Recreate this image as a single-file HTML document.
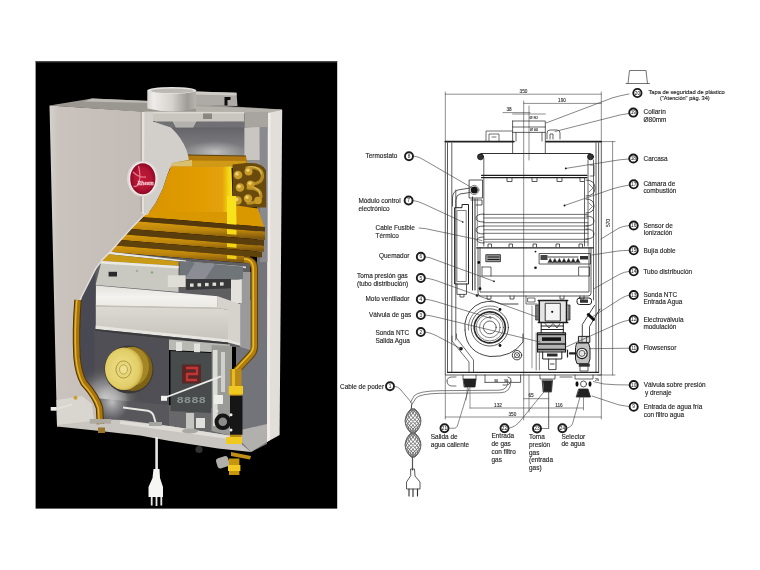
<!DOCTYPE html>
<html><head><meta charset="utf-8"><title>Calentador - diagrama de componentes</title>
<style>
html,body{margin:0;padding:0;background:#fff;}
body{width:760px;height:570px;overflow:hidden;font-family:"Liberation Sans",sans-serif;}
svg{display:block;position:absolute;left:0;top:0;}
.lb{font-family:"Liberation Sans",sans-serif;font-size:6.45px;fill:#262626;stroke:#262626;stroke-width:0.14px;}
.dm{font-family:"Liberation Sans",sans-serif;font-size:4.7px;fill:#333;stroke:#333;stroke-width:0.12px;}
</style></head><body>
<svg width="760" height="570" viewBox="0 0 760 570">
<defs>
<filter id="bl" x="-5%" y="-5%" width="110%" height="110%"><feGaussianBlur stdDeviation="0.7"/></filter>
<filter id="bl3" x="-5%" y="-5%" width="110%" height="110%"><feGaussianBlur stdDeviation="0.62"/></filter>
<filter id="bl2" x="-5%" y="-5%" width="110%" height="110%"><feGaussianBlur stdDeviation="0.45"/></filter>
<linearGradient id="gPanel" x1="0" y1="0" x2="1" y2="0"><stop offset="0" stop-color="#d2cdc7"/><stop offset="0.12" stop-color="#c4bdb7"/><stop offset="1" stop-color="#bdb5af"/></linearGradient>
<linearGradient id="gPipe" x1="0" y1="0" x2="1" y2="0"><stop offset="0" stop-color="#e4e2de"/><stop offset="0.35" stop-color="#cfccc8"/><stop offset="0.8" stop-color="#a9a6a2"/><stop offset="1" stop-color="#c4c1bd"/></linearGradient>
<linearGradient id="gDuct" x1="0" y1="0" x2="0" y2="1"><stop offset="0" stop-color="#5e5e62"/><stop offset="0.5" stop-color="#7d7d80"/><stop offset="1" stop-color="#a9a9a9"/></linearGradient>
<linearGradient id="gGold" x1="0" y1="0" x2="1" y2="0"><stop offset="0" stop-color="#d08c08"/><stop offset="0.6" stop-color="#e2a00a"/><stop offset="0.92" stop-color="#e8ac0c"/><stop offset="1" stop-color="#f6dc18"/></linearGradient>
<linearGradient id="gBurn" x1="0" y1="0" x2="0" y2="1"><stop offset="0" stop-color="#e8e6e0"/><stop offset="0.45" stop-color="#d6d3cc"/><stop offset="1" stop-color="#c4c1ba"/></linearGradient>
<radialGradient id="gFan" cx="0.45" cy="0.45" r="0.6"><stop offset="0" stop-color="#e8d070"/><stop offset="0.7" stop-color="#c9a63a"/><stop offset="1" stop-color="#8a6c1c"/></radialGradient>
</defs>
<rect width="760" height="570" fill="#fff"/>
<!-- PHOTO -->
<defs>
<linearGradient id="pPanel" x1="0" y1="0" x2="1" y2="0"><stop offset="0" stop-color="#d6d1cb"/><stop offset="0.1" stop-color="#cac3bd"/><stop offset="1" stop-color="#c3bbb5"/></linearGradient>
<linearGradient id="pPipe" x1="0" y1="0" x2="1" y2="0"><stop offset="0" stop-color="#d8d6d2"/><stop offset="0.12" stop-color="#eeece8"/><stop offset="0.5" stop-color="#d6d3cf"/><stop offset="0.82" stop-color="#9f9c98"/><stop offset="1" stop-color="#b8b5b1"/></linearGradient>
<linearGradient id="pHood" x1="0" y1="0" x2="0" y2="1"><stop offset="0" stop-color="#5c5c60"/><stop offset="0.45" stop-color="#77777a"/><stop offset="1" stop-color="#9c9c9c"/></linearGradient>
<radialGradient id="pHoodGlow" cx="0.5" cy="0.5" r="0.5"><stop offset="0" stop-color="#c4c4c4" stop-opacity="0.95"/><stop offset="1" stop-color="#b0b0b0" stop-opacity="0"/></radialGradient>
<linearGradient id="pGold" x1="0" y1="0" x2="1" y2="0"><stop offset="0" stop-color="#d89204"/><stop offset="0.5" stop-color="#e09a04"/><stop offset="0.88" stop-color="#e4a208"/><stop offset="0.95" stop-color="#f4d414"/><stop offset="1" stop-color="#f9e628"/></linearGradient>
<linearGradient id="pBurnTop" x1="0" y1="0" x2="0" y2="1"><stop offset="0" stop-color="#e4e2dc"/><stop offset="0.5" stop-color="#f4f2ee"/><stop offset="1" stop-color="#ebe9e4"/></linearGradient>
<linearGradient id="pBurnFront" x1="0" y1="0" x2="0" y2="1"><stop offset="0" stop-color="#dddad4"/><stop offset="1" stop-color="#c6c3bc"/></linearGradient>
<radialGradient id="pMotor" cx="0.45" cy="0.5" r="0.55"><stop offset="0" stop-color="#efe08c"/><stop offset="0.8" stop-color="#e2ce68"/><stop offset="1" stop-color="#c8ac44"/></radialGradient>
<radialGradient id="pHouse" cx="0.32" cy="0.72" r="0.5"><stop offset="0" stop-color="#dcdcdc" stop-opacity="0.95"/><stop offset="0.55" stop-color="#9a9a9c" stop-opacity="0.6"/><stop offset="1" stop-color="#505054" stop-opacity="0"/></radialGradient>
<linearGradient id="pCoil" x1="0" y1="0" x2="0" y2="1"><stop offset="0" stop-color="#d89c0e"/><stop offset="0.5" stop-color="#bb840a"/><stop offset="1" stop-color="#704c08"/></linearGradient>
<linearGradient id="pTube" x1="0" y1="0" x2="1" y2="0"><stop offset="0" stop-color="#6a4608"/><stop offset="0.3" stop-color="#e2b424"/><stop offset="0.6" stop-color="#b88210"/><stop offset="1" stop-color="#5a3c08"/></linearGradient>
<radialGradient id="pLogo" cx="0.5" cy="0.5" r="0.5"><stop offset="0" stop-color="#c01838"/><stop offset="0.7" stop-color="#b01232"/><stop offset="1" stop-color="#8c0c26"/></radialGradient>
</defs>
<g id="photo">
<rect x="35.6" y="61.2" width="301.6" height="447.4" fill="#000"/>
<rect x="35.6" y="61" width="301.6" height="1.4" fill="#4a4a4a"/>
<g filter="url(#bl)">
<!-- top face -->
<polygon points="49.5,105.5 92,98.6 150,101 200,104.5 282,109.5 282,113 145,112" fill="#9a9690"/>
<polygon points="92,98.6 150,101 150,103 84,101.5" fill="#bdb9b3"/>
<polygon points="196,106 282,109.5 282,112.5 196,112" fill="#b4b0aa"/>
<!-- bracket -->
<polygon points="195,91.6 236.500,92.800 237.500,106 195,105.5" fill="#aeaba6"/>
<polygon points="195,91.6 236.500,92.800 236.500,95.500 195,94.400" fill="#cfccc7"/>
<path d="M224.5,97 L230.5,97 L230.5,100 L227.500,100 L227.500,105.600 L224.5,105.600 Z" fill="#0c0c0c"/>
<!-- flue pipe -->
<path d="M147.300,90.500 L147.300,108.500 Q172,114.500 196.200,108.500 L196.200,90.500 Z" fill="url(#pPipe)"/>
<ellipse cx="171.800" cy="90.400" rx="24.500" ry="3.300" fill="#e6e4e0"/>
<ellipse cx="172.300" cy="90.800" rx="21.500" ry="2.300" fill="#bcb9b5"/>
<!-- inner right wall -->
<polygon points="257,122 267,118 267,444 251,452 236,440 236,300 257,300" fill="#73737a"/>
<!-- right front strip -->
<polygon points="267.500,113 282.200,110 279.600,435 267,442" fill="#e2deda"/>
<polygon points="267.500,113 270.500,112.500 270,440 267,442" fill="#f0ede9"/>
<!-- hood interior -->
<polygon points="160,121 260,121 260,168 160,168" fill="url(#pHood)"/>
<ellipse cx="215" cy="152" rx="32" ry="11" fill="url(#pHoodGlow)"/>
<polygon points="244.400,127.400 259.800,126.500 259.800,160 244.400,160" fill="#c9c6c1"/>
<polygon points="259.800,124 267.500,121 267.500,262 259.800,262" fill="#8a8a8e"/>
<polygon points="244.400,112 268,112 268,127 244.400,127.400" fill="#a8a4a0"/>
<!-- flue collar below lip -->
<polygon points="171,119 198,119 193,128 176,128" fill="#b4b2ae"/>
<!-- under-lip shadow -->
<polygon points="155,121 171,121 176,128 193,128 198,121 244.400,121.500 244.400,127.400 155,127.400" fill="#707074"/>
<!-- lip -->
<polygon points="145,111.800 244.400,112 244.400,121.500 145,121.500" fill="#c9c5bf"/>
<polygon points="145,111.800 244.400,112 244.400,113.500 145,113.500" fill="#dcd9d4"/>
<rect x="203" y="113.500" width="9" height="5.500" fill="#8a8782"/>
<!-- gold neck -->
<polygon points="187,154.500 246,155.500 246,158 186,157" fill="#5e4208"/>
<polygon points="186,155.500 246,156.500 248,166.500 172,166.500" fill="#b27a0c"/>
<polygon points="190,160.500 246,161 246,166.500 176,166.500" fill="#d09a12"/>
<polygon points="172,163 192,160 192,166.500 170,166.500" fill="#d8c070"/>
<!-- gold body -->
<polygon points="171,166.500 231.500,166.500 233,218.400 143,218.400 147.300,215 155.500,203.200 162.700,189 167.400,174.800" fill="url(#pGold)"/>
<!-- pipe bends right -->
<path d="M232.600,164.500 L246,163 Q262,162 266,170 L266.200,207.600 L232.600,207.600 Z" fill="#6a4a0c"/>
<g fill="none" stroke="#b48c26" stroke-width="3.400" stroke-linecap="round">
<path d="M247,168 Q262,166 262.500,176 Q262,184 250,184"/>
<path d="M248,188 Q261,188 261,196 Q260,203 248,203"/>
</g>
<g fill="none" stroke="#e0c058" stroke-width="1.100" stroke-linecap="round">
<path d="M248,167 Q260,165.500 261.500,174"/><path d="M249,187 Q259,187 260,194"/>
</g>
<g fill="#c89a26"><circle cx="238" cy="175" r="4.300"/><circle cx="248.500" cy="171.500" r="4"/><circle cx="240" cy="187.500" r="4.300"/><circle cx="250.500" cy="184.500" r="4"/><circle cx="237.500" cy="200.500" r="4.300"/><circle cx="248" cy="198.500" r="4.200"/><circle cx="258" cy="200.500" r="3.800"/></g>
<g fill="#ecd070"><circle cx="237" cy="173.800" r="1.900"/><circle cx="248" cy="170.300" r="1.700"/><circle cx="239" cy="186.300" r="1.900"/><circle cx="250" cy="183.300" r="1.700"/><circle cx="236.500" cy="199.300" r="1.900"/><circle cx="247" cy="197.300" r="1.700"/></g>
<!-- flared base -->
<polygon points="140,212 233,212 233,205 258,208.500 264,226.9 138,216.6" fill="#da9806"/>
<!-- coils -->
<polygon points="140.0,216.8 265.0,227.0 265.0,231.8 134.0,221.1" fill="#573808"/>
<polygon points="134.0,221.1 265.0,231.8 265.0,240.1 125.0,228.6" fill="url(#pCoil)"/>
<polygon points="125.0,228.6 264.0,240.0 264.0,245.9 119.5,234.1" fill="#5a3c08"/>
<polygon points="119.5,234.1 264.0,245.9 264.0,251.8 114.0,239.5" fill="url(#pCoil)"/>
<polygon points="114.0,239.5 262.0,251.7 262.0,257.6 109.0,245.0" fill="#614208"/>
<polygon points="109.0,245.0 250.0,256.6 250.0,263.6 103.0,251.5" fill="url(#pCoil)"/>
<polygon points="227,196 236,196 236.500,224.7 227,223.9" fill="#f8e21c"/>
<polygon points="227,229.1 236.500,229.9 236.500,234.8 227,234.0" fill="#f6dc18"/>
<polygon points="227,243.3 236.500,244.1 236.500,247.8 227,247.0" fill="#f2d418"/>
<polygon points="227,255.1 236.500,255.9 236.500,259.3 227,258.5" fill="#eecc18"/>
<!-- vertical gold pipe right -->
<path d="M244,259.700 Q254.300,260 254.300,269 L254.300,346 Q254.300,352 250,356 L236,371" fill="none" stroke="#5e400a" stroke-width="7.500"/>
<path d="M244,259.700 Q254.300,260 254.300,269 L254.300,346 Q254.300,352 250,356 L236,371" fill="none" stroke="#b07c10" stroke-width="5.500"/>
<path d="M244,258.700 Q253.300,259 253.300,269 L253.300,346 Q253.300,351 249,355 L235,370" fill="none" stroke="#e6bc28" stroke-width="1.600"/>
<!-- burner zone background -->
<polygon points="92,256 103,251.500 250,263.600 250,347 92,347" fill="#5e5e62"/>
<polygon points="240,272 250.500,272 250.500,350 240,347" fill="#9a9a9a"/>
<polygon points="186,261.500 246,266.500 246,268.300 186,263.300" fill="#d8d8d4"/>
<!-- frame white line + gold plate -->
<polygon points="108,251.500 186,260.500 186,262 106.500,254" fill="#e8e6e0"/>
<polygon points="106.500,254 178.500,261.500 178.500,266 101.500,261" fill="#c89a12"/>
<!-- manifold silver -->
<polygon points="101.500,261 178.500,266 178.500,292 95.500,285" fill="#c9c8c1"/>
<polygon points="101.500,261 178.500,266 178.500,268.500 100,263.500" fill="#e9e8e2"/>
<rect x="108.600" y="271.800" width="8.400" height="4.700" fill="#2a2a2a"/>
<circle cx="137" cy="271" r="1.200" fill="#a8a8a2"/><circle cx="152" cy="272.500" r="1.200" fill="#8aa878"/>
<!-- electrode strip -->
<polygon points="186,278.300 238,276 238,288 186,290" fill="#38383a"/>
<polygon points="180,261 243,266.500 243,279 180,279" fill="#70747a"/><polygon points="195,262.500 215,264.200 205,279 185,279" fill="#8a8e94"/>
<g fill="#deded8"><rect x="190" y="283.500" width="3.600" height="3.300"/><rect x="197.500" y="283.200" width="3.600" height="3.300"/><rect x="205" y="282.900" width="3.600" height="3.300"/><rect x="212.500" y="282.600" width="3.600" height="3.300"/><rect x="220" y="282.300" width="3.600" height="3.300"/></g>
<rect x="167.800" y="275.300" width="17.800" height="11.700" fill="#deddd6"/>
<rect x="231" y="279.500" width="10.800" height="23.500" fill="#e2e1db"/>
<!-- burner body -->
<polygon points="96,285.500 217.700,296.200 217.700,308 95.700,305.700" fill="url(#pBurnTop)"/>
<polygon points="95.700,305.700 217.700,308 228,310 228,341 95.700,327" fill="url(#pBurnFront)"/>
<polygon points="217.700,296.200 240.200,304 240.200,344.800 228,341 228,310 217.700,308" fill="#d6d3cc"/>
<polygon points="95.700,305.200 217.700,307.500 217.700,309 95.700,306.700" fill="#c2bfb8"/>
<polygon points="94.500,325.600 228,339.500 240.200,343.300 240.200,345.800 228,342.500 94.500,329" fill="#e6e5e0"/>
<polygon points="94.500,329 228,342.500 228,345 94.500,331.500" fill="#3a3a3c"/>
<!-- legs under burner -->
<polygon points="169,339.500 230,344.500 230,353 169,350" fill="#b9b9b4"/>
<rect x="176" y="342" width="6" height="9" fill="#e2e2de"/><rect x="194" y="343.500" width="6" height="9" fill="#e2e2de"/>
<!-- dark left gap -->
<polygon points="95.500,268.200 95.500,400 84,390 78,375 75,354 73,333 74,312 81.300,296.600 88.400,282.400" fill="#4a4a52"/>
<!-- fan housing -->
<polygon points="94.500,330.500 169,339.500 169,413 123,408 104,425 94.500,400" fill="#505054"/>
<ellipse cx="118" cy="384" rx="34" ry="32" fill="url(#pHouse)"/>
<polygon points="94.500,398 169,405 169,426 104,420" fill="#58585c"/>
<ellipse cx="112" cy="402" rx="17" ry="19" fill="url(#pHoodGlow)"/>
<ellipse cx="129" cy="369.500" rx="24.500" ry="24" fill="#3a3834"/>
<ellipse cx="133" cy="369" rx="19.500" ry="22" fill="#7e6218"/><ellipse cx="131.500" cy="366.500" rx="17.500" ry="19.500" fill="#a48628"/>
<ellipse cx="124" cy="368.800" rx="19" ry="21.200" fill="url(#pMotor)"/>
<ellipse cx="123.500" cy="369.500" rx="7.600" ry="8.600" fill="#e6d67a" stroke="#a89038" stroke-width="0.900"/>
<ellipse cx="123.500" cy="369.500" rx="4" ry="4.600" fill="#eee090" stroke="#a89038" stroke-width="0.700"/>
<!-- under board fill -->
<polygon points="169,405 232,410 232,437 169,427" fill="#68686a"/>
<!-- control board -->
<polygon points="170.500,351 211.500,353 211.500,413 170.500,411" fill="#464b4b"/>
<rect x="182" y="364.500" width="19" height="19" fill="#5a2626"/>
<path d="M186,368 L197,368 L197,374 L187,374 L187,380 L197,380" stroke="#c23434" stroke-width="2.400" fill="none"/>
<text x="176.500" y="402.500" font-family="Liberation Mono, monospace" font-size="9.500" font-weight="bold" fill="#8a9292" textLength="29.500" lengthAdjust="spacingAndGlyphs">8888</text>
<!-- right internals -->
<polygon points="211.500,345 232,346 232,436 211.500,431" fill="#9a9a96"/>
<rect x="213" y="350" width="4.500" height="76" fill="#dcdcd8"/>
<rect x="221" y="352" width="4" height="40" fill="#cfcfcb"/>
<rect x="214" y="395" width="9" height="9" fill="#ecece8"/>
<!-- floor inner right -->
<polygon points="232,432 267,424 267,442 251,452" fill="#b2b0ac"/>
<!-- bottom plate -->
<polygon points="57,418 123,420 169,426 232,436 251,452 218,448.400 170,441 140,435.500 100,431 57,426.500" fill="#c9c6c1"/>
<polygon points="120,421 169,426 232,436 236,440 120,424" fill="#e0ddd8"/>
<!-- cylinders under board -->
<rect x="186" y="413" width="8" height="17" fill="#c4c4c0"/><rect x="196" y="418" width="9" height="10" fill="#e0e0dc"/>
<ellipse cx="190" cy="431" rx="8" ry="2.500" fill="#a8a8a4"/>
<!-- brass fittings -->
<rect x="230" y="369" width="11.500" height="72" fill="#b98a12"/>
<rect x="232" y="369" width="3" height="20" fill="#e6bc28"/>
<rect x="228.700" y="386" width="14.300" height="8.500" fill="#f0c820"/>
<rect x="226" y="437" width="16" height="7" fill="#f0c820"/>
<rect x="230" y="395.700" width="12.500" height="39" fill="#161616"/>
<circle cx="222.800" cy="421.800" r="8.300" fill="#141414"/>
<circle cx="222.800" cy="421.800" r="4.300" fill="#8c8c8a"/>
<circle cx="231" cy="414.700" r="1.500" fill="#f0f0f0"/><circle cx="231" cy="430" r="1.500" fill="#f0f0f0"/><circle cx="217" cy="411" r="1.300" fill="#e4e4e4"/>
<!-- below cabinet valve -->
<polygon points="231,452 251,456 250,459.500 231,456" fill="#c09018"/>
<rect x="216.500" y="457" width="12.500" height="10.500" rx="3" fill="#b0aeaa" transform="rotate(-18 223 462)"/>
<rect x="229" y="458.500" width="10.400" height="16.500" fill="#c89610"/>
<rect x="228" y="465" width="12.400" height="6" fill="#f2c820"/>
<circle cx="199" cy="449.500" r="3.600" fill="#303030"/>
<!-- front left panel -->
<polygon points="49.500,105.500 145,111.800 145,213.700 131,228 119.200,241 111,250.400 102.700,258.700 95.500,268.200 88.400,282.400 81.300,296.600 75.400,313.200 73.500,333 75,354 77,372 82,384 92,394 98,404 100,420 57,426.500" fill="url(#pPanel)"/>
<!-- cut band -->
<path d="M143.700,112 L153,112 L153,121.500 L171,127.400 Q182,138 186.500,150 Q188.700,157 188.700,160 L172,163 L167.400,174.800 L162.700,189 L155.500,203.200 L147.300,215 L145,215 Z" fill="#d2cec9"/>
<rect x="141.800" y="112" width="2.600" height="102" fill="#e4e0dc"/>
<rect x="140.600" y="112" width="1.200" height="100" fill="#aaa39d"/>
<path d="M145.300,213.700 L131,228.500 L119.200,241.500 L111,251 L102.700,259.300 L95.500,268.800 L88.400,283 L81.300,297 L76,312" stroke="#e2ded9" stroke-width="1.600" fill="none"/>
<!-- left gold tube -->
<path d="M78,300 Q75.500,330 77,357 Q78.500,374 84,383 Q96,396 99.500,408 L100.400,424" fill="none" stroke="#4e3406" stroke-width="7.400"/>
<path d="M78,300 Q75.500,330 77,357 Q78.500,374 84,383 Q96,396 99.500,408 L100.400,424" fill="none" stroke="#a87410" stroke-width="5.400"/>
<path d="M76.800,300 Q74.300,330 75.800,357 Q77.300,374 83,384 Q95,397 98.300,408 L99.200,422" fill="none" stroke="#e4b42c" stroke-width="1.500"/>
<!-- floor left lit -->
<polygon points="56.500,400 82,396 92,404 94,421 57,425" fill="#d9d5cf"/>
<rect x="89.800" y="419" width="21.200" height="4.700" fill="#aeaaa0"/>
<rect x="98" y="427.500" width="7" height="5.500" fill="#9a742a"/>
<rect x="50.700" y="407" width="6" height="3.700" fill="#eeece8"/>
<path d="M56,409 L72,404.500" stroke="#e2e0dc" stroke-width="2.200"/>
<circle cx="75.500" cy="397.700" r="2" fill="#c8a030"/>
<!-- logo -->
<ellipse cx="142.800" cy="178.700" rx="15.800" ry="18" fill="#dcd8d4"/>
<ellipse cx="142.800" cy="178.700" rx="14" ry="16.800" fill="#f3eaea"/>
<ellipse cx="142.800" cy="178.700" rx="12.600" ry="15.500" fill="url(#pLogo)"/>
<path d="M138.500,166 Q141,176 139,182 Q137,188 133.500,186 M133,172 Q139,178 146,177" stroke="#e2788c" stroke-width="1.300" fill="none"/>
<text x="137.300" y="185" font-family="Liberation Serif, serif" font-style="italic" font-weight="bold" font-size="7" fill="#f6c0ca" stroke="#f6c0ca" stroke-width="0.300" textLength="16.500" lengthAdjust="spacingAndGlyphs">Rheem</text>
<!-- white rod and small pipe -->
<path d="M164,398 L221,376.400" stroke="#ecece8" stroke-width="1.800" fill="none"/>
<rect x="161" y="395.800" width="6" height="5" fill="#f2f2ee"/>
<path d="M123,407.600 L147.800,410.700 Q153,412 154,417 L156,424" stroke="#e6e6e2" stroke-width="2" fill="none"/>
<rect x="149" y="422" width="13" height="4" fill="#a4a4a0"/>
<!-- power cord -->
<rect x="155.300" y="437" width="2.600" height="34" fill="#e8e8e6"/>
<path d="M153.500,469 L159.500,469 L160,478 L163,487 L163,497 L148.500,497 L148.500,487 L152.500,478 Z" fill="#f6f6f4"/>
<rect x="150.800" y="497" width="1.800" height="8.500" fill="#eaeae8"/><rect x="155.600" y="497" width="1.800" height="9" fill="#eaeae8"/><rect x="160.400" y="497" width="1.800" height="8.500" fill="#eaeae8"/>
</g>
</g>
<!-- DIAGRAM -->
<g id="diagram" filter="url(#bl2)" fill="none" stroke="#303030" stroke-width="0.75" stroke-linecap="round" stroke-linejoin="round">
<!-- cap icon -->
<path d="M626,83.500 L649.500,83.500 M628,83.500 L629.500,70.500 L646,70.500 L647.500,83.500" stroke-width="0.8" stroke="#505050"/>
<!-- dimension lines top -->
<g stroke="#484848" stroke-width="0.62">
<path d="M445.300,94.200 L601.300,94.200 M445.300,92 L445.300,141 M601.300,92 L601.300,141"/>
<path d="M523.700,103.400 L601.300,103.400 M523.700,101 L523.700,420"/>
<path d="M503,112.600 L530,112.600 M529,106 L529,160 M512.600,114 L545.300,114"/>
<path d="M612.600,141.600 L612.600,375 M598,141.600 L615,141.600 M598,375 L615,375"/>
</g>
<!-- flue -->
<path d="M512.600,121 L545.300,121 L545.300,153 M512.600,121 L512.600,153 M512.600,127 L545.300,127 M512.600,132.400 L545.300,132.400 M516,132.400 L516,141 M542,132.400 L542,141"/>
<path d="M547,139 L547,133 Q547,130 550,130 L557,130 Q560,130 560,133 L560,139 M550,139 L550,134 L553,134 L553,139"/>
<path d="M486,141 L486,131 L512.600,131 M489,141 L489,134 L499,134 L499,141 M492,137 L496,137" stroke-width="0.7"/>
<!-- cabinet outline -->
<path d="M445.300,141.600 L514,141.600 M546,141.600 L601.300,141.600" stroke-width="1.600" stroke="#222"/>
<path d="M445.300,141.600 L445.300,375 L601.300,375 L601.300,141.600 M447.500,143 L447.500,372.400 M596,143 L596,372.400 M598.600,143 L598.600,372.400" stroke-width="0.8"/>
<path d="M447.500,372.400 L598.600,372.400" stroke-width="1.200" stroke="#222"/>
<path d="M451.800,143 L451.800,372 M455.800,190 L455.800,340"/>
<!-- chamber -->
<path d="M481,153.500 L590,153.500" stroke-width="1"/>
<circle cx="480.500" cy="156.800" r="3" fill="#333" stroke="#111" stroke-width="0.8"/>
<circle cx="590.500" cy="156.800" r="3" fill="#333" stroke="#111" stroke-width="0.8"/>
<path d="M481.500,175.300 L587,175.300 M481.500,177.600 L587,177.600" stroke-width="1.200" stroke="#1c1c1c"/>
<path d="M483.800,158 L483.800,246 M584.500,178 L584.500,246 M588,160 L588,246 M593.500,160 L593.500,300"/>
<path d="M507,178 L507,181.500 L512,181.500 L512,178 M532,178 L532,181.500 L537,181.500 L537,178 M557,178 L557,181.500 L562,181.500 L562,178 M580,178 L580,181.500 L584,181.500" stroke-width="0.8"/>
<!-- right u-bends -->
<path d="M586,180 Q595,180 595,188 Q595,196 586,196 M586,199 Q594,199 594,206 Q594,213 586,213 M586,216 Q594,216 594,221 Q594,226 586,226 M586,229 Q594,229 594,234 Q594,239 586,239" stroke-width="0.8"/>
<path d="M589,184 l4,4 l-4,4 M589,203 l3.500,3.500 l-3.500,3.500" stroke-width="0.6"/>
<path d="M590,165 L594,165 L594,176 L590,176" stroke-width="0.7"/>
<!-- left u-bends -->
<path d="M484,214 Q476,214 476,218 Q476,222 484,222 M484,226 Q476,226 476,230 Q476,234 484,234 M484,237 Q477,237 477,240 Q477,243 484,243" stroke-width="0.8"/>
<!-- tubes through exchanger -->
<path d="M483.800,214.400 L588,214.400 M483.800,218 L588,218 M483.800,222.700 L588,222.700 M483.800,226 L588,226 M483.800,229.800 L588,229.800 M483.800,233.300 L588,233.300 M483.800,239.300 L588,239.300 M483.800,242 L588,242" stroke-width="0.7"/>
<!-- burner box -->
<path d="M476.800,247.900 L593.400,247.900" stroke-width="1.400" stroke="#222"/>
<path d="M478,248 L478,293 Q478,296 481,296 L588,296 Q591,296 591,293 L591,248 M480,248 L480,292 L589,292 L589,248" stroke-width="0.8"/>
<path d="M482,276 L578,276 M482,267 L491,267 L491,276 M482,267 L482,276"/>
<rect x="486.200" y="254.700" width="14.200" height="7" stroke-width="0.9" fill="#999"/>
<path d="M488,257 L499,257 M488,259.500 L499,259.500" stroke-width="0.9" stroke="#111"/>
<path d="M539.500,253.500 L590.500,253.500 L590.500,264 L539.500,264 Z" stroke-width="0.8"/>
<path d="M548.0,262.5 l2.2,-4 l2.2,4 Z M552.6,262.5 l2.2,-4 l2.2,4 Z M557.2,262.5 l2.2,-4 l2.2,4 Z M561.8,262.5 l2.2,-4 l2.2,4 Z M566.4,262.5 l2.2,-4 l2.2,4 Z M571.0,262.5 l2.2,-4 l2.2,4 Z M575.6,262.5 l2.2,-4 l2.2,4 Z" fill="#222" stroke="#222" stroke-width="0.5"/>
<rect x="540.500" y="255" width="7" height="5" fill="#444" stroke="none"/><rect x="580" y="256" width="8" height="3.500" fill="#333" stroke="none"/>
<path d="M548,257 L578,257" stroke-width="0.9" stroke="#333"/>
<rect x="579" y="267" width="10.500" height="9"/>
<circle cx="535.500" cy="267.700" r="1.300" fill="#111" stroke="none"/><circle cx="535.500" cy="251.600" r="0.900" fill="#111" stroke="none"/>
<circle cx="494" cy="281.300" r="0.900" fill="#111" stroke="none"/>
<path d="M488,247 l0,-3 l3.500,0 l0,3 M509,247 l0,-3 l3.500,0 l0,3 M533,247 l0,-3 l3.500,0 l0,3 M556,247 l0,-3 l3.500,0 l0,3 M579,247 l0,-3 l3.500,0 l0,3" stroke-width="0.8"/>
<path d="M487,296 l0,3 l4,0 l0,-3 M510,296 l0,3 l4,0 l0,-3 M560,296 l0,3 l4,0 l0,-3 M580,296 l0,3 l4,0 l0,-3" stroke-width="0.8"/>
<!-- control module left -->
<path d="M455,207.700 L462,207.700 L462,204.500 L468.500,204.500 L468.500,284 L455,284 Z" stroke-width="1" stroke="#222"/>
<path d="M457.300,210.500 L466.200,210.500 L466.200,281.500 L457.300,281.500 Z" stroke-width="0.6"/>
<path d="M457,284 L457,294.400 L466.500,294.400 L466.500,284 M460,294.400 L460,297 L464,297 L464,294.400" stroke-width="0.8"/>
<path d="M470,188 L458,190 Q452.500,191.500 452.500,198 L452.500,206 M470,192.500 L460,194 Q456,195 456,200 L456,207" stroke-width="0.8"/>
<path d="M472.500,197 L472.500,290 M475,199 L475,290" stroke-width="0.95" stroke="#2a2a2a"/><path d="M477.300,199 L477.300,246" stroke-width="0.55"/>
<path d="M469.500,180 L482.500,180 L482.500,198 L469.500,198 Z M471,200 L482,200 L482,205 L476,205" stroke-width="0.8"/>
<circle cx="474.300" cy="190" r="3.500" fill="#161616" stroke="none"/>
<circle cx="474.300" cy="190" r="4.600" stroke-width="0.6"/>
<circle cx="478.800" cy="262.500" r="1.400" fill="#111" stroke="none"/><circle cx="480" cy="288.700" r="1.400" fill="#111" stroke="none"/><circle cx="477" cy="295.500" r="1.300" fill="#111" stroke="none"/>
<!-- fan -->
<circle cx="489.800" cy="327.400" r="6.400"/>
<circle cx="489.800" cy="327.400" r="10.300" stroke-width="0.6"/>
<circle cx="489.800" cy="327.400" r="15.500" stroke-width="1.700" stroke="#2a2a2a" stroke-dasharray="5.200 1.300"/>
<circle cx="489.800" cy="327.400" r="13.600" stroke-width="0.6"/>
<circle cx="489.800" cy="327.400" r="18.600" stroke-width="0.8"/>
<path d="M465,330 A25,25 0 0 1 501,304 L518,304 M465,330 Q466,353 490,356.500 Q512,357.500 523,342 L523,334" stroke-width="0.9"/>
<path d="M468.500,330 A21.500,21.500 0 0 1 498,307.500" stroke-width="0.6"/>
<circle cx="500" cy="309.500" r="1.400" fill="#111" stroke="none"/><circle cx="500" cy="345.500" r="1.400" fill="#111" stroke="none"/><circle cx="490" cy="317" r="0.700" fill="#111" stroke="none"/>
<circle cx="517" cy="355.200" r="4.700" stroke-width="0.9"/><circle cx="517" cy="355.200" r="2.600" stroke-width="0.8"/>
<path d="M514.200,352.400 l5.600,5.600 M519.800,352.400 l-5.600,5.600" stroke-width="0.5"/>
<!-- left pipe -->
<path d="M452,336 L452,341 L469,362 L469,372 M456.500,334 L456.500,338 L473.500,360 L473.500,372" stroke-width="0.7"/>
<circle cx="461" cy="348.700" r="1.800" fill="#111" stroke="none"/>
<!-- gas valve -->
<rect x="538.300" y="300.400" width="29.400" height="22" fill="#e4e4e4" stroke="none"/>
<rect x="537.500" y="332.800" width="28" height="19.200" fill="#b4b4b4" stroke="none"/>
<path d="M538.300,300.400 L567.700,300.400 M539.300,300.400 L539.300,322.500 M566.500,300.400 L566.500,322.500 M538.300,322.500 L567.700,322.500" stroke-width="1.500" stroke="#1c1c1c"/>
<rect x="545.600" y="303.300" width="14.700" height="17.700" fill="#f4f4f4" stroke-width="0.9" stroke="#222"/>
<path d="M536,305 L539,305 L539,320 L536,320 Z M567.500,305 L570,305 L570,320 L567.500,320" stroke-width="0.8" fill="#777"/>
<circle cx="552.200" cy="311.800" r="1.100" fill="#111" stroke="none"/>
<path d="M541.200,322.500 L541.200,332.800 M563.300,322.500 L563.300,332.800 M541.200,326 L563.300,326 M541.200,329.500 L563.300,329.500" stroke-width="1" stroke="#222"/>
<path d="M545,323.500 L549,328 L553,323.500 L557,328 L560,323.500" stroke-width="0.8"/>
<path d="M537.500,332.800 L565.500,332.800 L565.500,352 L537.500,352 Z" stroke-width="1.100" stroke="#1c1c1c"/>
<path d="M537.500,334.600 L565.500,334.600 M537.500,344 L565.500,344 M537.500,349.500 L565.500,349.500" stroke-width="1.500" stroke="#222"/>
<rect x="542" y="337.300" width="19" height="3.600" fill="#141414" stroke="none"/>
<path d="M542.700,352 L542.700,359 L561.800,359 L561.800,352" stroke-width="1" stroke="#222"/>
<rect x="547" y="353.500" width="10.500" height="3" fill="#2a2a2a" stroke="none"/>
<path d="M548.600,359 L548.600,369.600 L556,369.600 L556,359 M550.500,364 L554,364" stroke-width="0.9"/>
<path d="M536.200,333 L536.200,370 M539.400,352 L539.400,370" stroke-width="0.6"/>
<path d="M526,296 L526,304 L537,304 M528,298 L535,298 L535,302 L528,302 Z" stroke-width="0.7"/>
<path d="M532,306 L532,368" stroke-width="0.5"/>
<rect x="577" y="298" width="14.500" height="6.500" rx="2.500" stroke-width="1" stroke="#222"/>
<rect x="580" y="299.500" width="8" height="3.300" fill="#333" stroke="none"/>
<!-- right tube -->
<path d="M594.500,305.500 L582.300,324.500 L582.300,336.400 M600,309 L589.500,326.500 L589.500,336.400" stroke-width="0.9"/>
<path d="M588.300,314.500 L593.500,319.500" stroke="#111" stroke-width="3"/>
<!-- flow sensor -->
<rect x="578.800" y="336.400" width="11" height="6" fill="#ddd" stroke-width="1" stroke="#222"/>
<path d="M582,336.400 L582,342.400 M586.500,336.400 L586.500,342.400" stroke-width="0.7"/>
<path d="M577,343 L588.500,343 L590,348 L590,359 L588.500,363.700 L577,363.700 L575.500,359 L575.500,348 Z" fill="#c2c2c2" stroke-width="1" stroke="#222"/>
<circle cx="582" cy="353.400" r="5.200" stroke-width="1.100" fill="#e8e8e8" stroke="#1c1c1c"/><circle cx="582" cy="353.400" r="3" stroke-width="0.7"/>
<path d="M575.500,353.400 L570,353.400" stroke-width="2.200" stroke="#222"/>
<path d="M567.500,350 L567.500,357" stroke-width="1.200" stroke="#222"/>
<rect x="578.800" y="363.700" width="11" height="3" fill="#333" stroke="none"/>
<path d="M580,366.700 L580,371 L588,371 L588,366.700" stroke-width="0.8"/>
<!-- bottom fittings -->
<path d="M447,381 Q447,377 452,377 L456,377 M447,381 Q447,386 452,386 L456,386" stroke-width="0.7"/>
<path d="M463,375 L463,379 M476,375 L476,379"/>
<path d="M463.500,379 L476,379 L475,387 L464.500,387 Z" fill="#222" stroke="#222"/>
<path d="M470,387 L470,408 M467.500,387 L466,400" stroke-width="0.5"/>
<path d="M540,375 L540,379 L555,379 L555,375 M542.500,380 L552.500,380 L551.500,392 L543.500,392 Z"/>
<path d="M543,381 L552,381 L551,391.500 L544,391.500 Z" fill="#222" stroke="#222"/>
<path d="M548.700,392 L548.700,428"/>
<path d="M485,382.400 L520.600,382.400 L520.600,375 M485,375 L485,382.400 M503,385 Q510,386 511,381 Q512,378 508,377"/>
<circle cx="583.500" cy="384" r="3" stroke-width="0.8"/>
<ellipse cx="577" cy="384" rx="1.500" ry="2.800" fill="#111" stroke="none"/><ellipse cx="590" cy="384" rx="1.500" ry="2.800" fill="#111" stroke="none"/>
<path d="M579,389 L588,389 L590.500,397 L576.500,397 Z" fill="#222" stroke="#222"/>
<path d="M575,375 L575,379 L593,379 L593,375 M560,377 L572,377"/>
<!-- bottom dims -->
<g stroke="#484848" stroke-width="0.62">
<path d="M470,408 L583,408 M529,375 L529,412 M583.500,397 L583.500,410"/>
<path d="M523.700,398.700 L548.700,398.700"/>
<path d="M445.300,417 L601.300,417 M445.300,375 L445.300,419 M601.300,375 L601.300,419"/>
</g>
<!-- cable -->
<path d="M511,381 Q511,392.800 500,392.800 L440,393.300 Q420,393.800 416,398 L412.600,403.500 M508,381 Q508,390 499,390.200 L440,390.700 Q418,391 414,396 L410.500,402.500" stroke-width="0.75" stroke="#555"/>
<path d="M412,403 L411,410" stroke-width="1" stroke="#444"/>
<path d="M413.0,409.0 L413.4,410.0 L414.0,411.0 L414.8,412.0 L415.7,413.0 L416.7,414.0 L417.7,415.0 L418.6,416.0 L419.4,417.0 L420.1,418.0 L420.6,419.0 L420.9,420.0 L421.0,421.0 L420.9,422.0 L420.6,423.0 L420.1,424.0 L419.4,425.0 L418.6,426.0 L417.7,427.0 L416.7,428.0 L415.7,429.0 L414.8,430.0 L414.0,431.0 L413.4,432.0 L413.0,433.0 L412.6,434.0 L412.0,435.0 L411.2,436.0 L410.3,437.0 L409.3,438.0 L408.3,439.0 L407.4,440.0 L406.6,441.0 L405.9,442.0 L405.4,443.0 L405.1,444.0 L405.0,445.0 L405.1,446.0 L405.4,447.0 L405.9,448.0 L406.6,449.0 L407.4,450.0 L408.3,451.0 L409.3,452.0 L410.3,453.0 L411.2,454.0 L412.0,455.0 L412.6,456.0 L413.0,457.0 M413.0,409.0 L412.6,410.0 L412.0,411.0 L411.2,412.0 L410.3,413.0 L409.3,414.0 L408.3,415.0 L407.4,416.0 L406.6,417.0 L405.9,418.0 L405.4,419.0 L405.1,420.0 L405.0,421.0 L405.1,422.0 L405.4,423.0 L405.9,424.0 L406.6,425.0 L407.4,426.0 L408.3,427.0 L409.3,428.0 L410.3,429.0 L411.2,430.0 L412.0,431.0 L412.6,432.0 L413.0,433.0 L413.4,434.0 L414.0,435.0 L414.8,436.0 L415.7,437.0 L416.7,438.0 L417.7,439.0 L418.6,440.0 L419.4,441.0 L420.1,442.0 L420.6,443.0 L420.9,444.0 L421.0,445.0 L420.9,446.0 L420.6,447.0 L420.1,448.0 L419.4,449.0 L418.6,450.0 L417.7,451.0 L416.7,452.0 L415.7,453.0 L414.8,454.0 L414.0,455.0 L413.4,456.0 L413.0,457.0 M413.7,409.0 L414.8,410.0 L415.8,411.0 L416.7,412.0 L417.7,413.0 L418.6,414.0 L419.3,415.0 L419.9,416.0 L420.4,417.0 L420.6,418.0 L420.6,419.0 L420.4,420.0 L420.0,421.0 L419.4,422.0 L418.7,423.0 L417.8,424.0 L416.8,425.0 L415.8,426.0 L414.9,427.0 L413.9,428.0 L413.1,429.0 L412.5,430.0 L412.1,431.0 L411.9,432.0 L412.3,433.0 L411.2,434.0 L410.2,435.0 L409.3,436.0 L408.3,437.0 L407.4,438.0 L406.7,439.0 L406.1,440.0 L405.6,441.0 L405.4,442.0 L405.4,443.0 L405.6,444.0 L406.0,445.0 L406.6,446.0 L407.3,447.0 L408.2,448.0 L409.2,449.0 L410.2,450.0 L411.1,451.0 L412.1,452.0 L412.9,453.0 L413.5,454.0 L413.9,455.0 L414.1,456.0 L413.7,457.0 M412.3,409.0 L411.2,410.0 L410.2,411.0 L409.3,412.0 L408.3,413.0 L407.4,414.0 L406.7,415.0 L406.1,416.0 L405.6,417.0 L405.4,418.0 L405.4,419.0 L405.6,420.0 L406.0,421.0 L406.6,422.0 L407.3,423.0 L408.2,424.0 L409.2,425.0 L410.2,426.0 L411.1,427.0 L412.1,428.0 L412.9,429.0 L413.5,430.0 L413.9,431.0 L414.1,432.0 L413.7,433.0 L414.8,434.0 L415.8,435.0 L416.7,436.0 L417.7,437.0 L418.6,438.0 L419.3,439.0 L419.9,440.0 L420.4,441.0 L420.6,442.0 L420.6,443.0 L420.4,444.0 L420.0,445.0 L419.4,446.0 L418.7,447.0 L417.8,448.0 L416.8,449.0 L415.8,450.0 L414.9,451.0 L413.9,452.0 L413.1,453.0 L412.5,454.0 L412.1,455.0 L411.9,456.0 L412.3,457.0 M414.2,409.0 L415.7,410.0 L416.8,411.0 L417.7,412.0 L418.5,413.0 L419.1,414.0 L419.4,415.0 L419.6,416.0 L419.6,417.0 L419.3,418.0 L418.8,419.0 L418.1,420.0 L417.3,421.0 L416.4,422.0 L415.4,423.0 L414.4,424.0 L413.3,425.0 L412.4,426.0 L411.6,427.0 L410.9,428.0 L410.5,429.0 L410.3,430.0 L410.3,431.0 L410.7,432.0 L411.8,433.0 L410.3,434.0 L409.2,435.0 L408.3,436.0 L407.5,437.0 L406.9,438.0 L406.6,439.0 L406.4,440.0 L406.4,441.0 L406.7,442.0 L407.2,443.0 L407.9,444.0 L408.7,445.0 L409.6,446.0 L410.6,447.0 L411.6,448.0 L412.7,449.0 L413.6,450.0 L414.4,451.0 L415.1,452.0 L415.5,453.0 L415.7,454.0 L415.7,455.0 L415.3,456.0 L414.2,457.0 M411.8,409.0 L410.3,410.0 L409.2,411.0 L408.3,412.0 L407.5,413.0 L406.9,414.0 L406.6,415.0 L406.4,416.0 L406.4,417.0 L406.7,418.0 L407.2,419.0 L407.9,420.0 L408.7,421.0 L409.6,422.0 L410.6,423.0 L411.6,424.0 L412.7,425.0 L413.6,426.0 L414.4,427.0 L415.1,428.0 L415.5,429.0 L415.7,430.0 L415.7,431.0 L415.3,432.0 L414.2,433.0 L415.7,434.0 L416.8,435.0 L417.7,436.0 L418.5,437.0 L419.1,438.0 L419.4,439.0 L419.6,440.0 L419.6,441.0 L419.3,442.0 L418.8,443.0 L418.1,444.0 L417.3,445.0 L416.4,446.0 L415.4,447.0 L414.4,448.0 L413.3,449.0 L412.4,450.0 L411.6,451.0 L410.9,452.0 L410.5,453.0 L410.3,454.0 L410.3,455.0 L410.7,456.0 L411.8,457.0 M414.4,409.0 L416.0,410.0 L416.9,411.0 L417.5,412.0 L417.9,413.0 L418.1,414.0 L418.0,415.0 L417.7,416.0 L417.1,417.0 L416.4,418.0 L415.6,419.0 L414.6,420.0 L413.6,421.0 L412.5,422.0 L411.5,423.0 L410.6,424.0 L409.8,425.0 L409.1,426.0 L408.7,427.0 L408.5,428.0 L408.5,429.0 L408.7,430.0 L409.2,431.0 L410.0,432.0 L411.6,433.0 L410.0,434.0 L409.1,435.0 L408.5,436.0 L408.1,437.0 L407.9,438.0 L408.0,439.0 L408.3,440.0 L408.9,441.0 L409.6,442.0 L410.4,443.0 L411.4,444.0 L412.4,445.0 L413.5,446.0 L414.5,447.0 L415.4,448.0 L416.2,449.0 L416.9,450.0 L417.3,451.0 L417.5,452.0 L417.5,453.0 L417.3,454.0 L416.8,455.0 L416.0,456.0 L414.4,457.0 M411.6,409.0 L410.0,410.0 L409.1,411.0 L408.5,412.0 L408.1,413.0 L407.9,414.0 L408.0,415.0 L408.3,416.0 L408.9,417.0 L409.6,418.0 L410.4,419.0 L411.4,420.0 L412.4,421.0 L413.5,422.0 L414.5,423.0 L415.4,424.0 L416.2,425.0 L416.9,426.0 L417.3,427.0 L417.5,428.0 L417.5,429.0 L417.3,430.0 L416.8,431.0 L416.0,432.0 L414.4,433.0 L416.0,434.0 L416.9,435.0 L417.5,436.0 L417.9,437.0 L418.1,438.0 L418.0,439.0 L417.7,440.0 L417.1,441.0 L416.4,442.0 L415.6,443.0 L414.6,444.0 L413.6,445.0 L412.5,446.0 L411.5,447.0 L410.6,448.0 L409.8,449.0 L409.1,450.0 L408.7,451.0 L408.5,452.0 L408.5,453.0 L408.7,454.0 L409.2,455.0 L410.0,456.0 L411.6,457.0 M414.3,409.0 L415.6,410.0 L416.1,411.0 L416.3,412.0 L416.2,413.0 L415.8,414.0 L415.3,415.0 L414.6,416.0 L413.7,417.0 L412.7,418.0 L411.7,419.0 L410.7,420.0 L409.7,421.0 L408.8,422.0 L408.0,423.0 L407.4,424.0 L407.0,425.0 L406.8,426.0 L406.8,427.0 L407.1,428.0 L407.5,429.0 L408.2,430.0 L409.1,431.0 L410.1,432.0 L411.7,433.0 L410.4,434.0 L409.9,435.0 L409.7,436.0 L409.8,437.0 L410.2,438.0 L410.7,439.0 L411.4,440.0 L412.3,441.0 L413.3,442.0 L414.3,443.0 L415.3,444.0 L416.3,445.0 L417.2,446.0 L418.0,447.0 L418.6,448.0 L419.0,449.0 L419.2,450.0 L419.2,451.0 L418.9,452.0 L418.5,453.0 L417.8,454.0 L416.9,455.0 L415.9,456.0 L414.3,457.0 M411.7,409.0 L410.4,410.0 L409.9,411.0 L409.7,412.0 L409.8,413.0 L410.2,414.0 L410.7,415.0 L411.4,416.0 L412.3,417.0 L413.3,418.0 L414.3,419.0 L415.3,420.0 L416.3,421.0 L417.2,422.0 L418.0,423.0 L418.6,424.0 L419.0,425.0 L419.2,426.0 L419.2,427.0 L418.9,428.0 L418.5,429.0 L417.8,430.0 L416.9,431.0 L415.9,432.0 L414.3,433.0 L415.6,434.0 L416.1,435.0 L416.3,436.0 L416.2,437.0 L415.8,438.0 L415.3,439.0 L414.6,440.0 L413.7,441.0 L412.7,442.0 L411.7,443.0 L410.7,444.0 L409.7,445.0 L408.8,446.0 L408.0,447.0 L407.4,448.0 L407.0,449.0 L406.8,450.0 L406.8,451.0 L407.1,452.0 L407.5,453.0 L408.2,454.0 L409.1,455.0 L410.1,456.0 L411.7,457.0 M413.7,409.0 L414.2,410.0 L414.1,411.0 L413.7,412.0 L413.1,413.0 L412.3,414.0 L411.4,415.0 L410.4,416.0 L409.4,417.0 L408.5,418.0 L407.6,419.0 L406.8,420.0 L406.1,421.0 L405.7,422.0 L405.5,423.0 L405.4,424.0 L405.6,425.0 L406.0,426.0 L406.6,427.0 L407.3,428.0 L408.2,429.0 L409.1,430.0 L410.1,431.0 L411.1,432.0 L412.3,433.0 L411.8,434.0 L411.9,435.0 L412.3,436.0 L412.9,437.0 L413.7,438.0 L414.6,439.0 L415.6,440.0 L416.6,441.0 L417.5,442.0 L418.4,443.0 L419.2,444.0 L419.9,445.0 L420.3,446.0 L420.5,447.0 L420.6,448.0 L420.4,449.0 L420.0,450.0 L419.4,451.0 L418.7,452.0 L417.8,453.0 L416.9,454.0 L415.9,455.0 L414.9,456.0 L413.7,457.0 M412.3,409.0 L411.8,410.0 L411.9,411.0 L412.3,412.0 L412.9,413.0 L413.7,414.0 L414.6,415.0 L415.6,416.0 L416.6,417.0 L417.5,418.0 L418.4,419.0 L419.2,420.0 L419.9,421.0 L420.3,422.0 L420.5,423.0 L420.6,424.0 L420.4,425.0 L420.0,426.0 L419.4,427.0 L418.7,428.0 L417.8,429.0 L416.9,430.0 L415.9,431.0 L414.9,432.0 L413.7,433.0 L414.2,434.0 L414.1,435.0 L413.7,436.0 L413.1,437.0 L412.3,438.0 L411.4,439.0 L410.4,440.0 L409.4,441.0 L408.5,442.0 L407.6,443.0 L406.8,444.0 L406.1,445.0 L405.7,446.0 L405.5,447.0 L405.4,448.0 L405.6,449.0 L406.0,450.0 L406.6,451.0 L407.3,452.0 L408.2,453.0 L409.1,454.0 L410.1,455.0 L411.1,456.0 L412.3,457.0" stroke-width="0.85" stroke="#606060"/>
<path d="M412.500,457 L412.500,470" stroke-width="1.200" stroke="#555"/>
<path d="M411,469 L414.500,469 L415,476 L420,482 L420,489 L406.500,489 L406.500,482 L410.500,476 Z" stroke-width="0.8"/>
<path d="M409,489 L409,496 M413,489 L413,496.500 M417.500,489 L417.500,496" stroke-width="1.100"/>
<!-- leaders left -->
<g stroke="#3c3c3c" stroke-width="0.62">
<path d="M413.500,156 Q419,156.500 424,160 L471.600,187.600"/>
<path d="M412.800,200.500 Q418,201 424,204 L462.800,222"/><circle cx="462.800" cy="222" r="0.800" fill="#111" stroke="none"/>
<path d="M419,228 Q426,228.300 432,230 L482,240.500"/>
<path d="M425,256.800 Q430,257.300 436,260 L494,281.300"/>
<path d="M425,278 Q430,278.500 436,280.500 L537,317"/>
<path d="M425,299.200 Q430,299.700 436,301.500 L491,318.400"/>
<path d="M425,315 Q430,315.500 436,317 L540,342"/>
<path d="M425,332 Q430,332.500 436,335.500 L461,348.700"/>
<path d="M394.300,386.300 Q398,386.800 400,389 L411,402"/>
<path d="M448.800,428.200 L455,428.200 Q457,428 458,424 L469,388" stroke-dasharray="2.500 0.800"/>
<path d="M508.800,428.200 Q516,427 521,420 L544.700,391"/>
<path d="M541.300,428.500 L548.700,428.500"/>
<path d="M566.600,428.200 Q572,427 573,422 L580,397" stroke-dasharray="2.500 0.800"/>
<!-- leaders right -->
<path d="M629,94 Q620,95.500 612,98 L546,123"/>
<path d="M629,113.500 Q620,114.500 612,117 L555,131.500"/>
<path d="M629,159 Q620,159.500 612,161 L565.800,168.400"/>
<path d="M629.500,185 Q620,186.500 612,189 L564.500,205.500"/>
<path d="M629.500,225.500 Q623,226 619,228 L601,239"/>
<path d="M629.500,250.300 Q623,250.500 618,251 L592,255"/>
<path d="M629.500,271.300 Q624,272 620,274 L593.400,289"/>
<path d="M629.500,295 Q625,296 621,298.500 L592,317"/>
<path d="M629.500,320 Q624,321 618,323.500 L566,347"/>
<path d="M629.500,348.200 L589.500,348.700"/>
<path d="M629.500,385 Q615,385 604,384 L593.400,381.600"/>
<path d="M629.500,406.600 Q618,405.500 610,402 L592,396"/>
</g>
<circle cx="565.800" cy="168.400" r="0.900" fill="#111" stroke="none"/><circle cx="564.500" cy="205.500" r="0.900" fill="#111" stroke="none"/>
<!-- number circles -->
<g stroke="#1e1e1e" stroke-width="1.9" fill="#fff">
<circle cx="409" cy="156.200" r="4"/><circle cx="408.600" cy="200.500" r="4"/>
<circle cx="420.800" cy="256.800" r="4"/><circle cx="420.800" cy="278" r="4"/><circle cx="420.800" cy="299.200" r="4"/><circle cx="420.800" cy="315" r="4"/><circle cx="420.800" cy="332" r="4"/>
<circle cx="390" cy="386.300" r="4"/>
<circle cx="444.500" cy="428.200" r="4"/><circle cx="504.500" cy="428.200" r="4"/><circle cx="537" cy="428.500" r="4"/><circle cx="562.400" cy="428.200" r="4"/>
</g>
<g stroke="#181818" stroke-width="1.9" fill="#fff">
<circle cx="637.400" cy="93" r="4.100"/><circle cx="633.300" cy="112.600" r="4.050"/><circle cx="633.300" cy="158.500" r="4.050"/><circle cx="633.700" cy="184.300" r="4.050"/>
<circle cx="633.700" cy="225.500" r="4.050"/><circle cx="633.700" cy="250.300" r="4.050"/><circle cx="633.700" cy="271.300" r="4.050"/><circle cx="633.700" cy="295" r="4.050"/>
<circle cx="633.700" cy="319.700" r="4.050"/><circle cx="633.700" cy="348.200" r="4.050"/><circle cx="633.700" cy="385" r="4.050"/><circle cx="633.700" cy="406.700" r="4.050"/>
</g>
</g>
<!-- TEXT -->
<g id="labels" filter="url(#bl3)" stroke="none">
<g class="nm" font-family="Liberation Sans, sans-serif" font-size="4.800" fill="#111" text-anchor="middle">
<text x="409" y="157.700">8</text><text x="408.600" y="202">7</text><text x="420.800" y="258.300">6</text><text x="420.800" y="279.500">5</text><text x="420.800" y="300.700">4</text><text x="420.800" y="316.500">3</text><text x="420.800" y="333.500">2</text><text x="390" y="387.800">1</text>
<text x="444.500" y="429.700">21</text><text x="504.500" y="429.700">22</text><text x="537" y="430">23</text><text x="562.400" y="429.700">24</text>
<text x="637.400" y="94.500">20</text><text x="633.300" y="114.100">19</text><text x="633.300" y="160">18</text><text x="633.700" y="185.800">17</text><text x="633.700" y="227">16</text><text x="633.700" y="251.800">15</text><text x="633.700" y="272.800">14</text><text x="633.700" y="296.500">13</text><text x="633.700" y="321.200">12</text><text x="633.700" y="349.700">11</text><text x="633.700" y="386.500">10</text><text x="633.700" y="408.200">9</text>
</g>
<g class="lb">
<text x="365.500" y="158.300">Termostato</text>
<text x="358.400" y="202.600">Módulo control</text><text x="358.400" y="210.500">electrónico</text>
<text x="375.500" y="230">Cable Fusible</text><text x="375.500" y="238">Térmico</text>
<text x="379" y="258">Quemador</text>
<text x="357" y="278.200">Toma presión gas</text><text x="357" y="286.200">(tubo distribución)</text>
<text x="365.500" y="301.200">Moto ventilador</text>
<text x="369" y="317.200">Válvula de gas</text>
<text x="375.500" y="335">Sonda NTC</text><text x="375.500" y="342.500">Salida Agua</text>
<text x="340" y="388.500">Cable de poder</text>
</g>
<g class="lb">
<text x="430.800" y="439">Salida de</text><text x="430.800" y="446.800">agua caliente</text>
<text x="491.500" y="438">Entrada</text><text x="491.500" y="446">de gas</text><text x="491.500" y="453.800">con filtro</text><text x="491.500" y="461.500">gas</text>
<text x="529" y="438.800">Toma</text><text x="529" y="446.600">presión</text><text x="529" y="454.500">gas</text><text x="529" y="462.300">(entrada</text><text x="529" y="470">gas)</text>
<text x="561.500" y="438.800">Selector</text><text x="561.500" y="446.200">de agua</text>
<text x="648.400" y="93.600" font-size="5.750">Tapa de seguridad de plástico</text><text x="660" y="100" font-size="5.600">("Atención" pág. 34)</text>
<text x="643.600" y="114.200">Collarín</text><text x="643.600" y="121.800">Ø80mm</text>
<text x="643.600" y="160.700">Carcasa</text>
<text x="643.400" y="186">Cámara de</text><text x="643.400" y="193">combustión</text>
<text x="643.400" y="227.500">Sensor de</text><text x="643.400" y="235.400">Ionización</text>
<text x="643.400" y="252.700">Bujía doble</text>
<text x="643.400" y="273.500">Tubo distribución</text>
<text x="643.400" y="296.700">Sonda NTC</text><text x="643.400" y="303.800">Entrada Agua</text>
<text x="643.400" y="321.900">Electroválvula</text><text x="643.400" y="329.200">modulación</text>
<text x="643.400" y="350.400">Flowsensor</text>
<text x="643.700" y="387.200">Válvula sobre presión</text><text x="645" y="394.800">y drenaje</text>
<text x="643.700" y="409">Entrada de agua fría</text><text x="643.700" y="416.900">con filtro agua</text>
</g>
<g class="dm" text-anchor="middle">
<text x="523.500" y="92.800">350</text><text x="562" y="102">190</text><text x="509" y="111.300">38</text><text x="533.500" y="118.800" font-size="3.800">Ø 80</text><text x="534" y="130.500" font-size="3.800">Ø 60</text>
<text x="498" y="406.800">132</text><text x="559" y="406.800">116</text><text x="531" y="397">65</text><text x="512.400" y="415.800">350</text>
<text x="609.500" y="223" transform="rotate(-90 609.500 223)">570</text>
<text x="496" y="381.500" font-size="3.800">30</text><text x="506" y="381.500" font-size="3.800">30</text><text x="597" y="381" font-size="3.800">25</text>
</g>
</g>
</svg>
</body></html>
